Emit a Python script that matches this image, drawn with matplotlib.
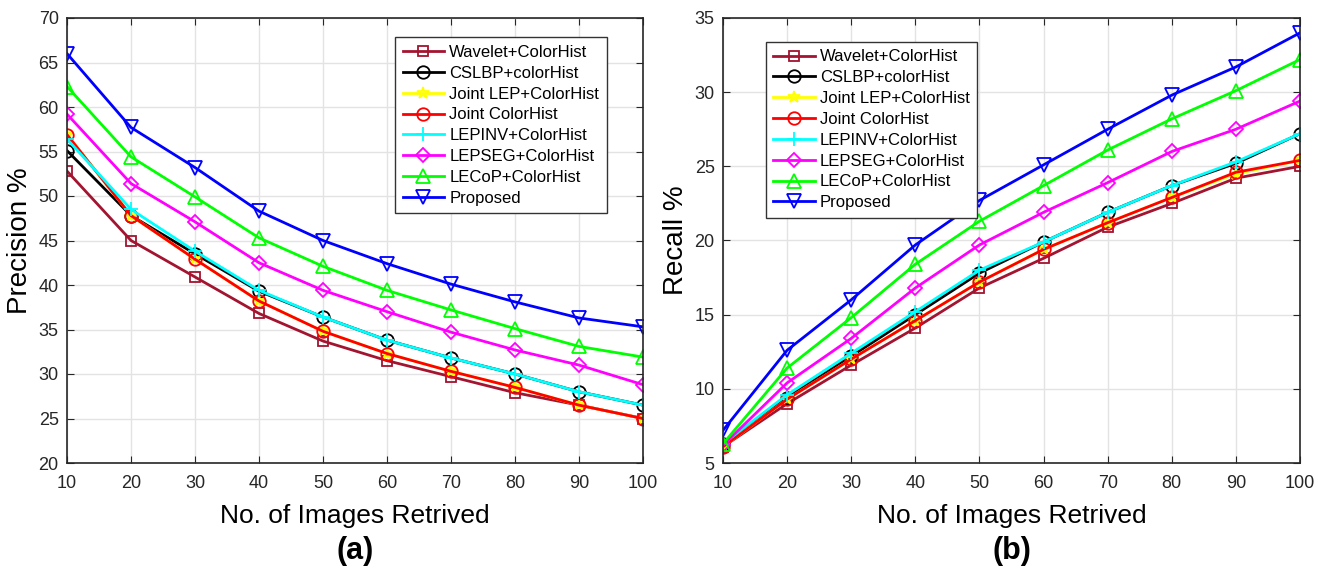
import numpy as np
import matplotlib
matplotlib.use('Agg')
import matplotlib.pyplot as plt

plt.rcParams['font.family'] = ['Liberation Sans', 'DejaVu Sans']

n_images = [10, 20, 30, 40, 50, 60, 70, 80, 90, 100]

methods = ['Wavelet+ColorHist', 'CSLBP+colorHist', 'Joint LEP+ColorHist',
           'Joint ColorHist', 'LEPINV+ColorHist', 'LEPSEG+ColorHist',
           'LECoP+ColorHist', 'Proposed']

# precision (%)
prec_wavelet = [52.8, 45.0, 40.9, 36.8, 33.7, 31.5, 29.7, 27.9, 26.5, 25.0]
prec_cslbp = [55.1, 47.8, 43.5, 39.3, 36.4, 33.8, 31.8, 30.0, 28.0, 26.5]
prec_jointlep = [56.9, 47.8, 42.9, 38.2, 34.8, 32.3, 30.3, 28.5, 26.5, 25.0]
prec_jointcolor = [56.9, 47.8, 42.9, 38.2, 34.8, 32.3, 30.3, 28.5, 26.5, 25.0]
prec_lepinv = [56.4, 48.5, 43.8, 39.4, 36.4, 33.8, 31.8, 30.0, 28.0, 26.5]
prec_lepseg = [59.2, 51.4, 47.1, 42.5, 39.4, 37.0, 34.7, 32.7, 31.0, 28.8]
prec_lecop = [62.3, 54.4, 49.9, 45.3, 42.1, 39.4, 37.2, 35.1, 33.1, 31.9]
prec_proposed = [66.0, 57.7, 53.2, 48.3, 45.0, 42.4, 40.1, 38.1, 36.3, 35.3]

# recall (%)
rec_wavelet = [6.1, 9.0, 11.6, 14.1, 16.8, 18.8, 20.9, 22.5, 24.2, 25.0]
rec_cslbp = [6.3, 9.4, 12.2, 15.0, 17.8, 19.9, 21.9, 23.7, 25.2, 27.2]
rec_jointlep = [6.1, 9.3, 12.0, 14.6, 17.2, 19.4, 21.2, 22.9, 24.5, 25.4]
rec_jointcolor = [6.1, 9.3, 12.0, 14.6, 17.2, 19.4, 21.2, 22.9, 24.6, 25.4]
rec_lepinv = [6.3, 9.6, 12.4, 15.2, 18.0, 19.9, 21.9, 23.7, 25.3, 27.2]
rec_lepseg = [6.2, 10.4, 13.4, 16.8, 19.7, 21.9, 23.9, 26.0, 27.5, 29.4]
rec_lecop = [6.3, 11.4, 14.8, 18.4, 21.3, 23.7, 26.1, 28.2, 30.1, 32.2]
rec_proposed = [7.2, 12.6, 16.0, 19.7, 22.7, 25.1, 27.5, 29.8, 31.7, 34.0]

precision = [prec_wavelet, prec_cslbp, prec_jointlep, prec_jointcolor,
             prec_lepinv, prec_lepseg, prec_lecop, prec_proposed]
recall = [rec_wavelet, rec_cslbp, rec_jointlep, rec_jointcolor,
          rec_lepinv, rec_lepseg, rec_lecop, rec_proposed]

colors = ['#A2142F', 'k', '#FFFF00', '#FF0000', '#00FFFF', '#FF00FF',
          '#00FF00', '#0000FF']
markers = ['s', 'o', '*', 'o', '+', 'D', '^', 'v']
msizes = [7, 9, 9, 9, 10, 7, 10, 10]

AXIS_GREY = '#262626'


def draw(ax, data, ylabel, yticks, legend_loc, tag):
    for i, name in enumerate(methods):
        ax.plot(n_images, data[i], color=colors[i], marker=markers[i],
                markersize=msizes[i], markerfacecolor='none',
                markeredgewidth=1.3, linewidth=2, label=name)
    ax.set_xlim(10, 100)
    ax.set_ylim(yticks[0], yticks[-1])
    ax.set_xticks(n_images)
    ax.set_yticks(yticks)
    ax.grid(True, color='#e3e3e3', linewidth=1)
    ax.set_axisbelow(True)
    ax.tick_params(direction='in', top=True, right=True, labelsize=13,
                   length=5, colors=AXIS_GREY)
    ax.tick_params(axis='x', pad=9)
    ax.tick_params(axis='y', pad=6)
    for s in ax.spines.values():
        s.set_linewidth(1.2)
        s.set_color(AXIS_GREY)
    ax.set_ylabel(ylabel, fontsize=20, labelpad=4)
    ax.set_xlabel('No. of Images Retrived', fontsize=19, labelpad=8)
    leg = ax.legend(loc='upper left', bbox_to_anchor=legend_loc,
                    fontsize=12, fancybox=False, framealpha=1,
                    edgecolor='#333333', handlelength=2.5,
                    labelspacing=0.35, borderpad=0.45, handletextpad=0.3)
    leg.get_frame().set_linewidth(1)
    ax.text(0.5, -0.165, tag, transform=ax.transAxes, ha='center', va='top',
            fontsize=22, fontweight='bold')


fig = plt.figure(figsize=(13.18, 5.73), dpi=100)
ax1 = fig.add_axes([67 / 1318, 110 / 573, 576 / 1318, 445 / 573])
ax2 = fig.add_axes([723 / 1318, 110 / 573, 577 / 1318, 445 / 573])

draw(ax1, precision, 'Precision %', list(range(20, 71, 5)), (0.555, 0.975), '(a)')
draw(ax2, recall, 'Recall %', list(range(5, 36, 5)), (0.06, 0.965), '(b)')

fig.savefig('out.png', dpi=100)
